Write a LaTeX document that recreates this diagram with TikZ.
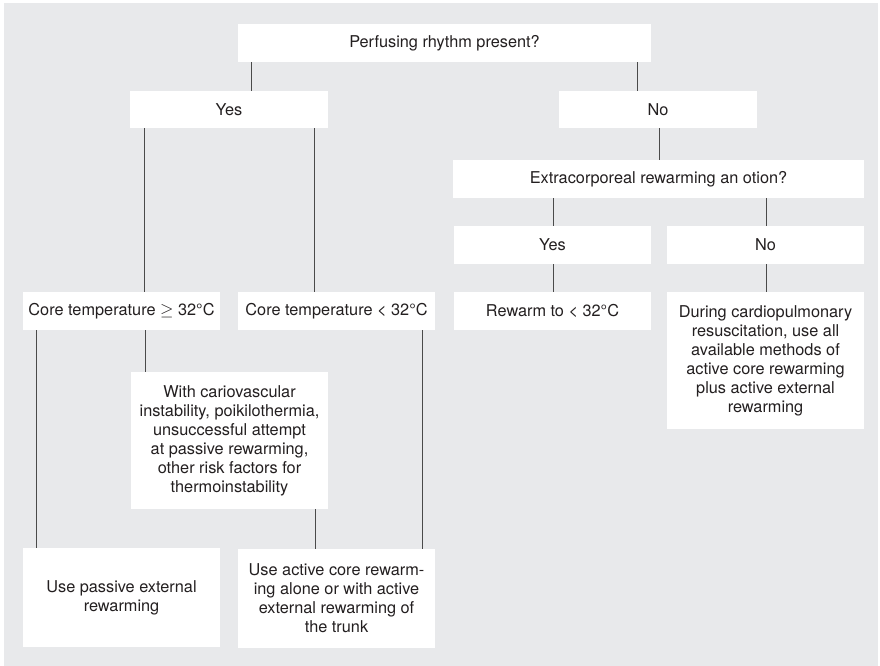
\documentclass[tikz,border=0pt]{standalone}
\usepackage{fontspec}
\setmainfont{TeX Gyre Heros}
\definecolor{bg}{HTML}{E8E9EB}
\definecolor{ln}{HTML}{4A4A4A}
\definecolor{tx}{HTML}{231F20}
\tikzset{
  box/.style={fill=white, draw=none, inner sep=0pt, align=center, text=tx,
    font=\fontsize{16.3}{19}\selectfont},
  conn/.style={draw=ln, line width=1pt}
}
\begin{document}
\begin{tikzpicture}[x=1pt,y=-1pt]
\useasboundingbox (0,0) rectangle (880,666);
\fill[bg] (4,3) rectangle (878,666);
% nodes
\node[box, minimum width=413, minimum height=38] (top) at (444.5,43) {Perfusing rhythm present?};
\node[box, minimum width=198, minimum height=37] (yes) at (229,109.5) {Yes};
\node[box, minimum width=198, minimum height=37] (no) at (658,109.5) {No};
\node[box, minimum width=411, minimum height=38] (extra) at (658.5,179) {Extracorporeal rewarming an otion?};
\node[box, minimum width=197, minimum height=38] (yes2) at (552.5,245) {Yes};
\node[box, minimum width=197, minimum height=38] (no2) at (765.5,245) {No};
\node[box, minimum width=197, minimum height=38] (rewarm) at (552.5,311) {Rewarm to < 32°C};
\node[box, minimum width=197, minimum height=137] (during) at (765.5,360.5) {During cardiopulmonary\\resuscitation, use all\\available methods of\\active core rewarming\\plus active external\\rewarming};
\node[box, minimum width=197, minimum height=38] (coreGE) at (121.5,311) {Core temperature $\geq$ 32°C};
\node[box, minimum width=197, minimum height=38] (coreLT) at (336.5,311) {Core temperature < 32°C};
\node[box, minimum width=197, minimum height=137] (with) at (229.5,440.5) {With cariovascular\\instability, poikilothermia,\\unsuccessful attempt\\at passive rewarming,\\other risk factors for\\thermoinstability};
\node[box, minimum width=197, minimum height=99] (passive) at (121.5,597.5) {Use passive external\\rewarming};
\node[box, minimum width=197, minimum height=99] (active) at (336.5,598.5) {Use active core rewarm-\\ing alone or with active\\external rewarming of\\the trunk};
% x positions of connectors
\coordinate (xa) at (251,0);
\coordinate (xb) at (637,0);
\coordinate (xc) at (144,0);
\coordinate (xd) at (314,0);
\coordinate (xe) at (659,0);
\coordinate (xf) at (553,0);
\coordinate (xg) at (766,0);
\coordinate (xh) at (36,0);
\coordinate (xi) at (145,0);
\coordinate (xj) at (422,0);
\coordinate (xk) at (315,0);
% connectors
\draw[conn] (top.south -| xa) -- (yes.north -| xa);
\draw[conn] (top.south -| xb) -- (no.north -| xb);
\draw[conn] (yes.south -| xc) -- (coreGE.north -| xc);
\draw[conn] (yes.south -| xd) -- (coreLT.north -| xd);
\draw[conn] (no.south -| xe) -- (extra.north -| xe);
\draw[conn] (extra.south -| xf) -- (yes2.north -| xf);
\draw[conn] (extra.south -| xg) -- (no2.north -| xg);
\draw[conn] (yes2.south -| xf) -- (rewarm.north -| xf);
\draw[conn] (no2.south -| xg) -- (during.north -| xg);
\draw[conn] (coreGE.south -| xh) -- (passive.north -| xh);
\draw[conn] (coreGE.south -| xi) -- (with.north -| xi);
\draw[conn] (coreLT.south -| xj) -- (active.north -| xj);
\draw[conn] (with.south -| xk) -- (active.north -| xk);
\end{tikzpicture}
\end{document}
